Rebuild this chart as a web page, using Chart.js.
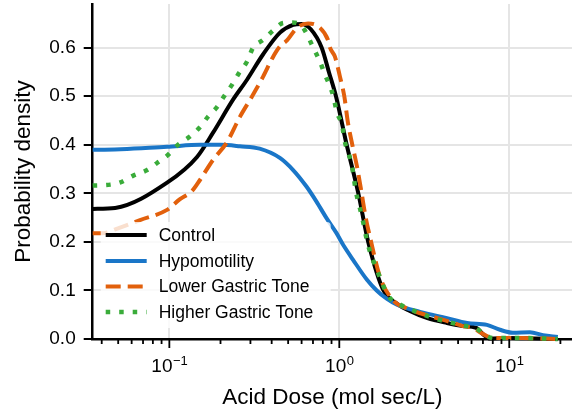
<!DOCTYPE html>
<html>
<head>
<meta charset="utf-8">
<script src="https://cdn.jsdelivr.net/npm/chart.js@4.4.1/dist/chart.umd.min.js"></script>
<style>
    html, body { margin: 0; padding: 0; background: #fff; }
    #wrap { width: 572px; height: 414px; }
</style>
</head>
<body>
<div id="wrap"><canvas id="myChart" width="572" height="414"></canvas></div>
<script>
// values
const controlDose = [0.0354, 0.048, 0.097, 0.1455, 0.1808, 0.237, 0.2864, 0.3556, 0.4477, 0.5343, 0.6, 0.68, 0.788, 0.87, 0.956, 1.105, 1.294, 1.48, 1.82, 2.2, 2.6, 3.3, 4.3, 5.3, 6.4, 7.0, 7.7, 10, 14, 19.3];
const controlDensity = [0.268, 0.27, 0.322, 0.375, 0.425, 0.493, 0.534, 0.586, 0.631, 0.647, 0.649, 0.638, 0.6, 0.549, 0.5, 0.4, 0.3, 0.2, 0.1, 0.072, 0.058, 0.043, 0.033, 0.027, 0.023, 0.01, 0.001, 0.002, 0.001, 0];

const hypoDose = [0.0354, 0.0391, 0.0969, 0.1517, 0.2, 0.26, 0.34, 0.447, 0.535, 0.641, 0.734, 0.841, 0.963, 1.053, 1.205, 1.455, 1.66, 1.9, 2.2, 2.984, 4.3, 5.64, 7.39, 8.82, 10.5, 13.24, 15.8, 19.3];
const hypoDensity = [0.39, 0.39, 0.396, 0.4, 0.4, 0.397, 0.392, 0.373, 0.348, 0.314, 0.283, 0.249, 0.218, 0.194, 0.163, 0.122, 0.1, 0.083, 0.07, 0.056, 0.043, 0.033, 0.029, 0.019, 0.013, 0.014, 0.008, 0.004];

const lowerDose = [0.0354, 0.0407, 0.048, 0.0672, 0.0969, 0.1155, 0.136, 0.1517, 0.1808, 0.218, 0.2605, 0.307, 0.3556, 0.4074, 0.448, 0.4921, 0.5637, 0.6547, 0.7697, 0.858, 0.8818, 0.9434, 1.0095, 1.07, 1.125, 1.193, 1.271, 1.354, 1.43, 1.516, 1.735, 2.07, 2.5, 3.0, 3.6, 4.5, 5.27, 6.2, 6.72, 7.4, 8.47, 12, 19.3];
const lowerDensity = [0.218, 0.218, 0.226, 0.245, 0.266, 0.288, 0.305, 0.328, 0.369, 0.405, 0.458, 0.5, 0.54, 0.581, 0.603, 0.615, 0.641, 0.65, 0.641, 0.616, 0.6, 0.581, 0.54, 0.5, 0.445, 0.4, 0.355, 0.3, 0.25, 0.21, 0.128, 0.08, 0.063, 0.053, 0.045, 0.035, 0.027, 0.022, 0.014, 0.006, 0.002, 0.002, 0];

const higherDose = [0.0354, 0.045, 0.051, 0.061, 0.074, 0.085, 0.098, 0.1125, 0.132, 0.152, 0.169, 0.191, 0.21, 0.234, 0.257, 0.286, 0.311, 0.356, 0.407, 0.467, 0.52, 0.6, 0.703, 0.77, 0.824, 0.882, 0.922, 0.97, 1.037, 1.08, 1.125, 1.188, 1.254, 1.36, 1.475, 1.667, 1.934, 2.3, 2.8, 3.5, 4.5, 5.5, 6.5, 7.2, 8.0, 12, 19.3];
const higherDensity = [0.316, 0.318, 0.322, 0.336, 0.348, 0.363, 0.379, 0.4, 0.417, 0.437, 0.458, 0.478, 0.5, 0.524, 0.548, 0.571, 0.6, 0.616, 0.635, 0.651, 0.652, 0.645, 0.6, 0.571, 0.544, 0.52, 0.5, 0.466, 0.441, 0.405, 0.386, 0.355, 0.303, 0.252, 0.194, 0.142, 0.09, 0.07, 0.057, 0.044, 0.034, 0.027, 0.02, 0.008, 0.002, 0.002, 0];

const seriesNames = ['Control', 'Hypomotility', 'Lower Gastric Tone', 'Higher Gastric Tone'];
const xMajorTicks = [0.1, 1, 10];
const xMajorLabels = ['\u22121', '0', '1'];   // exponents of 10
const xMinorTicks = [0.04, 0.05, 0.06, 0.07, 0.08, 0.09, 0.2, 0.3, 0.4, 0.5, 0.6, 0.7, 0.8, 0.9, 2, 3, 4, 5, 6, 7, 8, 9, 20];
const yTicks = [0, 0.1, 0.2, 0.3, 0.4, 0.5, 0.6];

const FONT = "'Liberation Sans', Arial, sans-serif";

function toPoints(xs, ys) {
    return xs.map((x, i) => ({ x: x, y: ys[i] }));
}

// minor ticks, x labels with superscripts, and the in-plot legend
const axisExtras = {
    id: 'axisExtras',
    afterDraw(chart) {
        const ctx = chart.ctx;
        const xs = chart.scales.x;
        const area = chart.chartArea;
        ctx.save();
        ctx.strokeStyle = '#000';
        ctx.lineWidth = 1.8;
        ctx.beginPath();
        xMinorTicks.forEach(v => {
            const px = xs.getPixelForValue(v);
            ctx.moveTo(px, area.bottom);
            ctx.lineTo(px, area.bottom + 5);
        });
        xMajorTicks.forEach(v => {
            const px = xs.getPixelForValue(v);
            ctx.moveTo(px, area.bottom);
            ctx.lineTo(px, area.bottom + 9);
        });
        ctx.stroke();

        // 10^n labels
        ctx.fillStyle = '#000';
        ctx.textBaseline = 'alphabetic';
        ctx.textAlign = 'left';
        xMajorTicks.forEach((v, i) => {
            const px = xs.getPixelForValue(v);
            ctx.font = '19px ' + FONT;
            const w1 = ctx.measureText('10').width;
            ctx.font = '13px ' + FONT;
            const w2 = ctx.measureText(xMajorLabels[i]).width;
            const start = px - (w1 + w2) / 2;
            ctx.font = '19px ' + FONT;
            ctx.fillText('10', start, area.bottom + 33);
            ctx.font = '13px ' + FONT;
            ctx.fillText(xMajorLabels[i], start + w1 + 0.5, area.bottom + 25.5);
        });

        // legend
        const bx = area.left + 8, by = area.bottom - 117, bw = 230, bh = 106;
        ctx.fillStyle = 'rgba(255,255,255,0.8)';
        ctx.beginPath();
        ctx.roundRect(bx, by, bw, bh, 4);
        ctx.fill();
        const rowY = [-104, -78, -52.5, -27];
        ctx.font = '17.5px ' + FONT;
        ctx.textBaseline = 'middle';
        chart.data.datasets.forEach((ds, i) => {
            const y = area.bottom + rowY[i];
            ctx.strokeStyle = ds.borderColor;
            ctx.lineWidth = ds.borderWidth;
            ctx.lineCap = 'butt';
            ctx.setLineDash(ds.borderDash || []);
            ctx.beginPath();
            ctx.moveTo(area.left + 13, y);
            ctx.lineTo(area.left + 54, y);
            ctx.stroke();
            ctx.setLineDash([]);
            ctx.fillStyle = '#000';
            ctx.fillText(ds.label, area.left + 66, y + 1);
        });
        ctx.restore();
    }
};

const ctx = document.getElementById('myChart');
const myChart = new Chart(ctx, {
    type: 'line',
    data: {
        datasets: [
            {
                label: seriesNames[0],
                data: toPoints(controlDose, controlDensity),
                borderColor: '#000000',
                borderWidth: 4,
                order: 4
            },
            {
                label: seriesNames[1],
                data: toPoints(hypoDose, hypoDensity),
                borderColor: '#1a76c8',
                borderWidth: 4,
                order: 3
            },
            {
                label: seriesNames[2],
                data: toPoints(lowerDose, lowerDensity),
                borderColor: '#e2600c',
                borderWidth: 4,
                borderDash: [15, 7],
                order: 2
            },
            {
                label: seriesNames[3],
                data: toPoints(higherDose, higherDensity),
                borderColor: '#3aac3a',
                borderWidth: 4.5,
                borderDash: [4.5, 9],
                order: 1
            }
        ]
    },
    options: {
        responsive: false,
        animation: false,
        layout: { padding: { top: 4, right: 0, bottom: 0, left: 0 } },
        elements: {
            point: { radius: 0 },
            line: { cubicInterpolationMode: 'monotone', fill: false, borderCapStyle: 'butt' }
        },
        datasets: { line: { clip: false } },
        plugins: {
            legend: { display: false },
            tooltip: { enabled: false }
        },
        scales: {
            x: {
                type: 'logarithmic',
                min: 0.0354,
                max: 23.4,
                afterBuildTicks: s => { s.ticks = xMajorTicks.map(v => ({ value: v })); },
                afterFit: s => { s.height = 75; s.paddingLeft = 0; s.paddingRight = 0; },
                ticks: { display: false },
                grid: { color: '#e5e5e5', lineWidth: 2, drawTicks: false },
                border: { color: '#000', width: 2.5 },
                title: {
                    display: true,
                    text: 'Acid Dose (mol sec/L)',
                    color: '#000',
                    font: { family: FONT, size: 22.5 },
                    padding: { top: 0, bottom: 2.5 }
                }
            },
            y: {
                type: 'linear',
                min: 0,
                max: 0.69,
                afterBuildTicks: s => { s.ticks = yTicks.map(v => ({ value: v })); },
                afterFit: s => { s.width = 92.7; s.paddingTop = 0; s.paddingBottom = 0; },
                ticks: {
                    callback: v => v.toFixed(1),
                    color: '#000',
                    font: { family: FONT, size: 19 },
                    padding: 8
                },
                grid: { color: '#e5e5e5', lineWidth: 2, tickColor: '#000', tickLength: 9, tickWidth: 2 },
                border: { color: '#000', width: 2.5 },
                title: {
                    display: true,
                    text: 'Probability density',
                    color: '#000',
                    font: { family: FONT, size: 22.5 },
                    padding: { top: 10, bottom: 0 }
                }
            }
        }
    },
    plugins: [axisExtras]
});
</script>
</body>
</html>
